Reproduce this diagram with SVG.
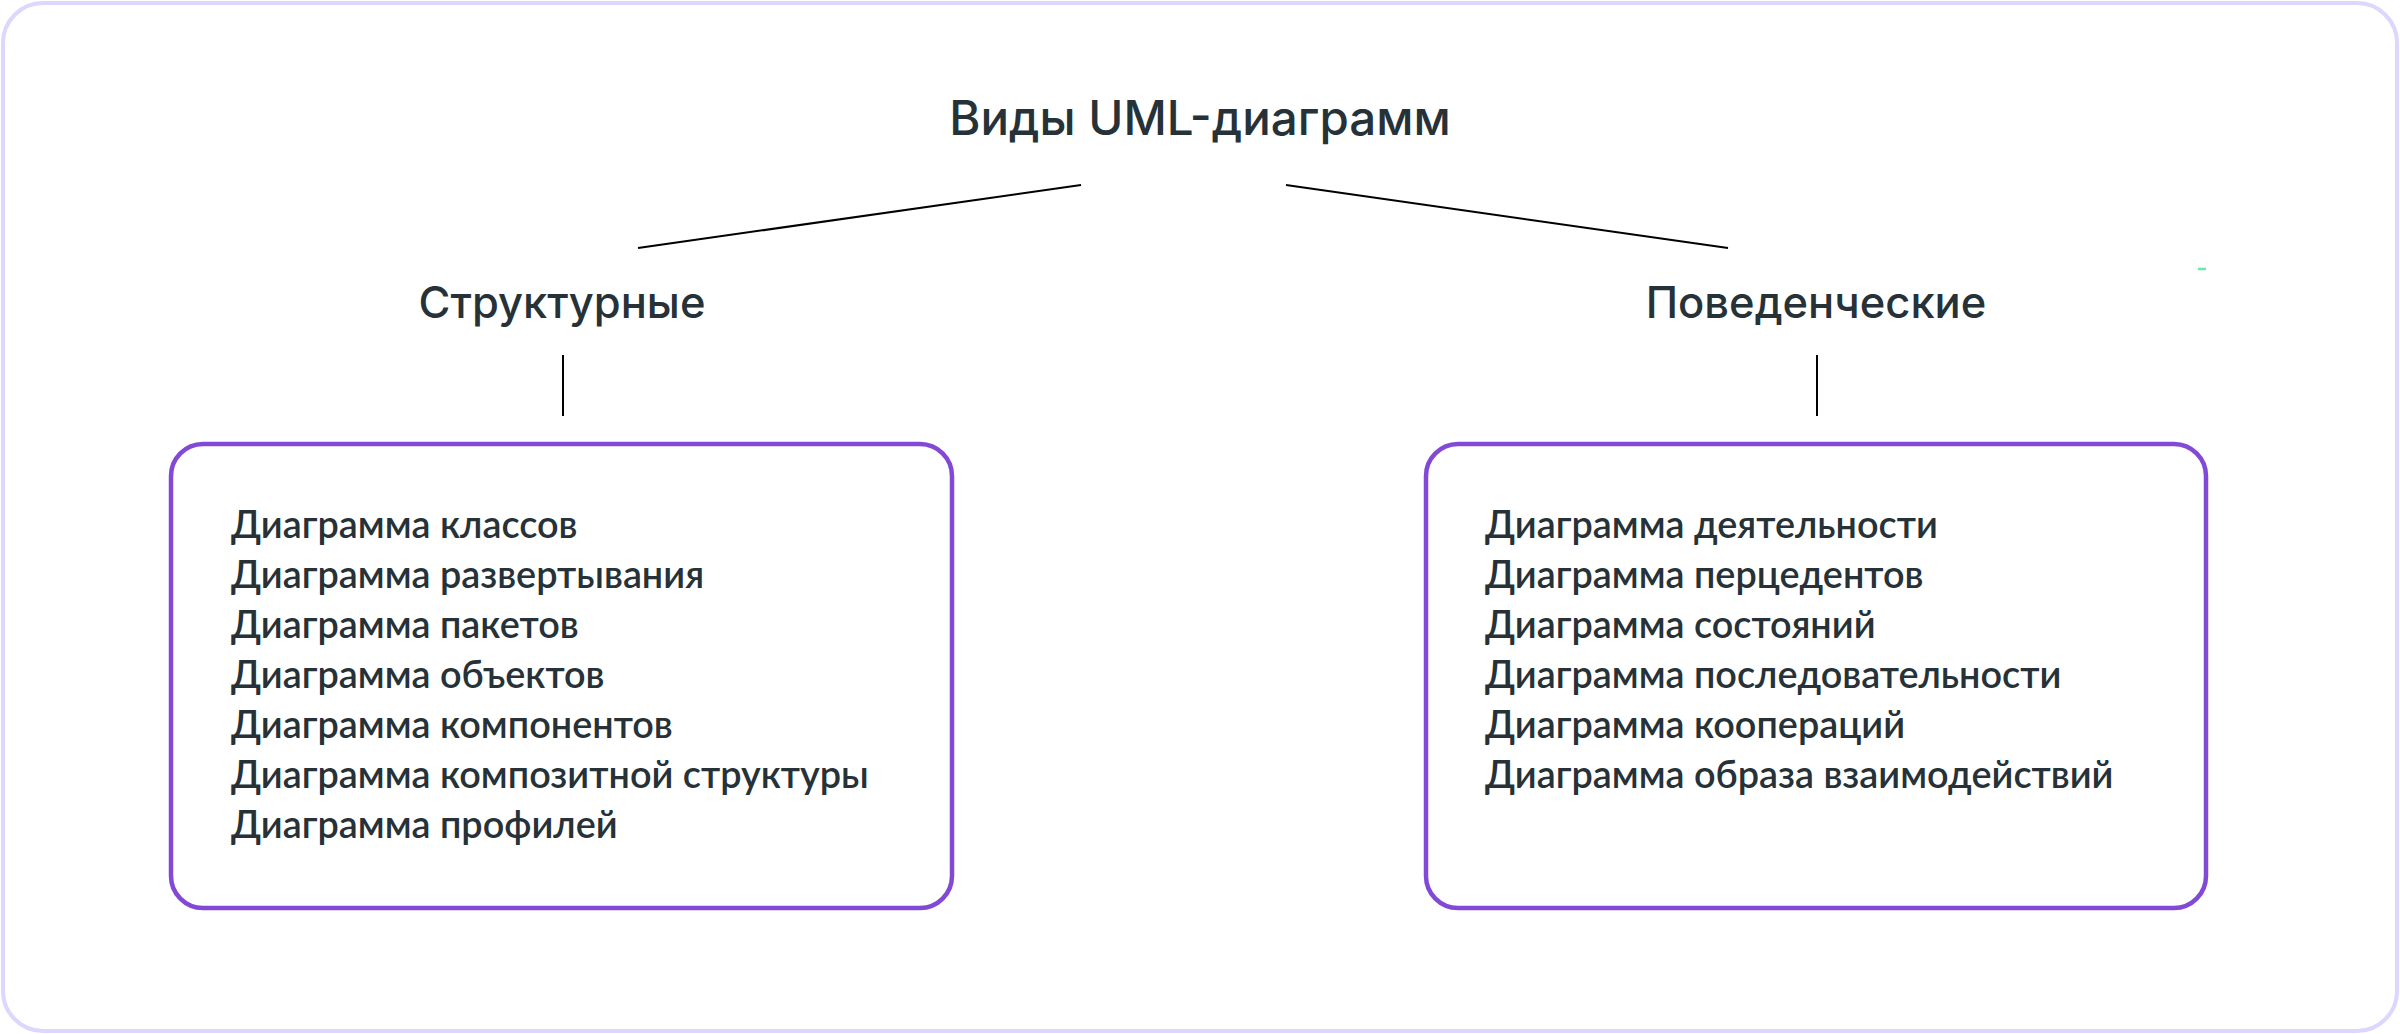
<svg xmlns="http://www.w3.org/2000/svg" width="2400" height="1034" viewBox="0 0 2400 1034">
<style>
.title{font-family:"Inter","Liberation Sans",sans-serif;font-size:47.5px;font-weight:500;fill:#263238;text-anchor:middle}
.head{font-family:"Inter","Liberation Sans",sans-serif;font-size:43.5px;font-weight:500;fill:#263238;text-anchor:middle}
.item{font-family:"Lato","Liberation Sans",sans-serif;font-size:37.8px;font-weight:600;fill:#263238}
.box{fill:#ffffff;stroke:#8249D6;stroke-width:4.5}
.conn{stroke:#000000;stroke-width:2;fill:none}
</style>
<rect x="3" y="3" width="2394" height="1028" rx="40" fill="#ffffff" stroke="#DDD6FE" stroke-width="4"/>
<g id="root">
<text class="title" x="1200" y="135">Виды UML-диаграмм</text>
</g>
<g id="structural">
<text class="head" x="562" y="318">Структурные</text>
</g>
<g id="behavioral">
<text class="head" x="1816" y="318">Поведенческие</text>
</g>
<g id="structural-list">
<rect class="box" x="171" y="444" width="781" height="464" rx="32"/>
<text class="item" x="231" y="538">Диаграмма классов</text>
<text class="item" x="231" y="588">Диаграмма развертывания</text>
<text class="item" x="231" y="638">Диаграмма пакетов</text>
<text class="item" x="231" y="688">Диаграмма объектов</text>
<text class="item" x="231" y="738">Диаграмма компонентов</text>
<text class="item" x="231" y="788">Диаграмма композитной структуры</text>
<text class="item" x="231" y="838">Диаграмма профилей</text>
</g>
<g id="behavioral-list">
<rect class="box" x="1426" y="444" width="780" height="464" rx="32"/>
<text class="item" x="1485" y="538">Диаграмма деятельности</text>
<text class="item" x="1485" y="588">Диаграмма перцедентов</text>
<text class="item" x="1485" y="638">Диаграмма состояний</text>
<text class="item" x="1485" y="688">Диаграмма последовательности</text>
<text class="item" x="1485" y="738">Диаграмма коопераций</text>
<text class="item" x="1485" y="788">Диаграмма образа взаимодействий</text>
</g>
<g id="connectors">
<line class="conn" x1="638" y1="248" x2="1081" y2="185"/>
<line class="conn" x1="1286" y1="185" x2="1728" y2="248"/>
<line class="conn" x1="563" y1="355" x2="563" y2="416"/>
<line class="conn" x1="1817" y1="355" x2="1817" y2="416"/>
</g>
<line x1="2198" y1="269" x2="2206" y2="269" stroke="#6EE7A8" stroke-width="2.5"/>
</svg>
